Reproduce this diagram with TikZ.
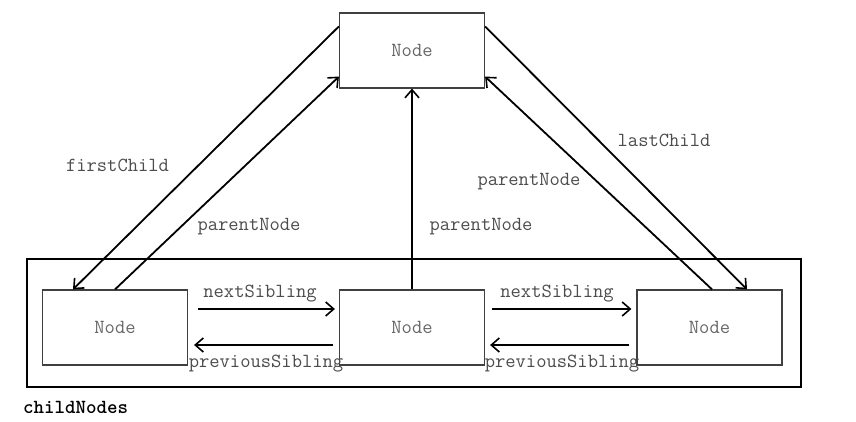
\documentclass[tikz,border=0pt]{standalone}
\usetikzlibrary{arrows.meta}
\begin{document}
\begin{tikzpicture}[x=1pt,y=-1pt,
  nodebox/.style={draw=black!75,line width=1.2pt,minimum width=145pt,minimum height=75pt,inner sep=0pt,
    font=\fontsize{20}{22}\selectfont\ttfamily,text=black!60},
  lbl/.style={font=\fontsize{20}{22}\selectfont\ttfamily,text=black!70,inner sep=0pt},
  link/.style={line width=1.8pt,-{Straight Barb[length=8pt,width=14pt,line width=1.6pt]}}]
\useasboundingbox (0,0) rectangle (856,422);
\node[draw=black,line width=2.6pt,minimum width=774pt,minimum height=128pt,inner sep=0pt] (outer) at (414,323) {};
\node[nodebox] (top) at (412,50.5) {Node};
\node[nodebox] (left) at (115,327.5) {Node};
\node[nodebox] (mid) at (412,327.5) {Node};
\node[nodebox] (right) at (709.5,327.5) {Node};
% top to children
\draw[link] ([yshift=-14pt]top.north west) -- ([xshift=-42pt]left.north);
\draw[link] (left.north) -- ([yshift=12pt]top.south west);
\draw[link] (mid.north) -- (top.south);
\draw[link] ([yshift=-14pt]top.north east) -- ([xshift=37.5pt]right.north);
\draw[link] ([xshift=2.5pt]right.north) -- ([yshift=12pt]top.south east);
% siblings
\draw[link] ([xshift=10pt,yshift=18.5pt]left.east) -- ([xshift=-4pt,yshift=18.5pt]mid.west);
\draw[link] ([xshift=-6pt,yshift=-17.5pt]mid.west) -- ([xshift=6pt,yshift=-17.5pt]left.east);
\draw[link] ([xshift=7pt,yshift=18.5pt]mid.east) -- ([xshift=-5pt,yshift=18.5pt]right.west);
\draw[link] ([xshift=-7pt,yshift=-17.5pt]right.west) -- ([xshift=5pt,yshift=-17.5pt]mid.east);
% labels
\node[lbl] (l1) at (117.5,165) {firstChild};
\node[lbl] (l2) at (249,227) {parentNode};
\node[lbl] (l3) at (481,227) {parentNode};
\node[lbl] (l4) at (529,182) {parentNode};
\node[lbl] (l5) at (664,140) {lastChild};
\node[lbl] (l6) at (260,294) {nextSibling};
\node[lbl] (l7) at (557,294) {nextSibling};
\node[lbl] (l8) at (266,364) {previousSibling};
\node[lbl] (l9) at (562,364) {previousSibling};
\node[font=\fontsize{20}{22}\selectfont\ttfamily\bfseries,inner sep=0pt,anchor=west] (cn) at (23,407) {childNodes};
\end{tikzpicture}
\end{document}
